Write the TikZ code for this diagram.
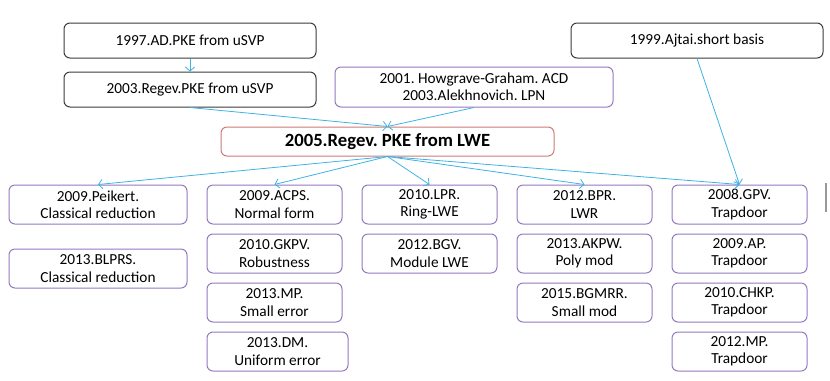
\documentclass[tikz,border=0pt]{standalone}
\usepackage{fontspec}
\setmainfont{Carlito}
\usetikzlibrary{arrows.meta,positioning}
\definecolor{boxgray}{HTML}{3A3A3A}
\definecolor{boxpurple}{HTML}{9378BE}
\definecolor{boxred}{HTML}{CC7A78}
\definecolor{linkblue}{HTML}{3DB2E4}
\frenchspacing

\begin{document}
\begin{tikzpicture}[x=0.75pt,y=-0.75pt,
    root/.style={draw=boxgray,rounded corners=4.5pt,line width=0.75pt,minimum width=189pt,minimum height=26.25pt,inner sep=0pt,align=center,font=\fontsize{11.5}{13}\selectfont},
    other/.style={draw=boxpurple,rounded corners=4.5pt,line width=0.75pt,minimum width=208.5pt,minimum height=30pt,inner sep=0pt,align=center,font=\fontsize{11.5}{13}\selectfont},
    main/.style={draw=boxred,rounded corners=4.5pt,line width=0.75pt,minimum width=249.75pt,minimum height=21.75pt,inner sep=0pt,align=center,font=\fontsize{14}{16}\selectfont\bfseries},
    work/.style={draw=boxpurple,rounded corners=4.5pt,line width=0.75pt,minimum width=101.25pt,minimum height=29.25pt,inner sep=0pt,align=center,font=\fontsize{11.5}{13}\selectfont},
    link/.style={-{Straight Barb[length=3pt,width=7pt]},linkblue,line width=0.6pt}
  ]
    \useasboundingbox (0,0) rectangle (830,380);

    % Origins
    \node[root] (ad97) at (190,40.5) {1997.AD.PKE from uSVP};
    \node[root] (regev03) at (190,89.5) {2003.Regev.PKE from uSVP};
    \node[other] (hga) at (474,87) {2001. Howgrave-Graham. ACD\\2003.Alekhnovich. LPN};
    \node[root] (ajtai) at (697,40.5) {1999.Ajtai.short basis};

    % Center
    \node[main] (regev05) at (387.5,141.5) {2005.Regev. PKE from LWE};

    % Column 1: classical reduction
    \node[work,minimum width=133.5pt] (peikert) at (98,204.5) {2009.Peikert.\\Classical reduction};
    \node[work,minimum width=133.5pt] (blprs) at (98,268.5) {2013.BLPRS.\\Classical reduction};

    % Column 2: error
    \node[work] (acps) at (274.5,204.5) {2009.ACPS.\\Normal form};
    \node[work] (gkpv) at (274.5,253.5) {2010.GKPV.\\Robustness};
    \node[work] (mp13) at (274.5,302.5) {2013.MP.\\Small error};
    \node[work,minimum width=105.75pt] (dm) at (277.5,351.5) {2013.DM.\\Uniform error};

    % Column 3: structured
    \node[work] (lpr) at (429.5,204.5) {2010.LPR.\\Ring-LWE};
    \node[work] (bgv) at (429.5,253.5) {2012.BGV.\\Module LWE};

    % Column 4: rounding / modulus
    \node[work] (bpr) at (584.5,204.5) {2012.BPR.\\LWR};
    \node[work] (akpw) at (584.5,253.5) {2013.AKPW.\\Poly mod};
    \node[work] (bgmrr) at (584.5,302.5) {2015.BGMRR.\\Small mod};

    % Column 5: trapdoors
    \node[work] (gpv) at (739.5,204.5) {2008.GPV.\\Trapdoor};
    \node[work] (ap) at (739.5,253.5) {2009.AP.\\Trapdoor};
    \node[work] (chkp) at (739.5,302.5) {2010.CHKP.\\Trapdoor};
    \node[work] (mp12) at (739.5,351.5) {2012.MP.\\Trapdoor};

    % Arrows
    \draw[link] (ad97) -- (regev03);
    \draw[link] (regev03.south) -- (regev05.north);
    \draw[link] (hga.south) -- (regev05.north);
    \draw[link] (ajtai.south) -- (gpv.north);
    \draw[link] (regev05.south) -- (peikert.north);
    \draw[link] (regev05.south) -- (acps.north);
    \draw[link] (regev05.south) -- (lpr.north);
    \draw[link] (regev05.south) -- (bpr.north);
    \draw[link] (regev05.south) -- (gpv.north);

    % Gray bar at the right edge
    \draw[gray!80,line width=1.5pt] (826,183) -- (826,212);
  \end{tikzpicture}
\end{document}
